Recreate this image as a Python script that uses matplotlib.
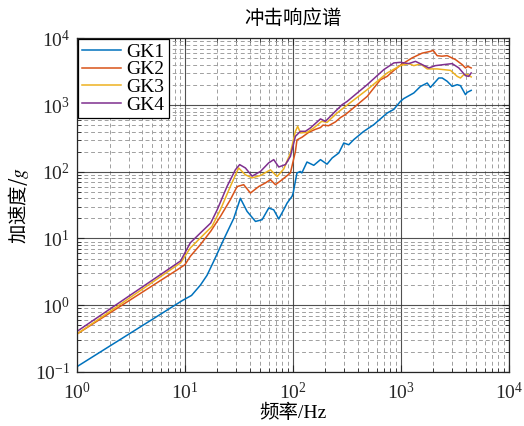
import matplotlib
matplotlib.use('Agg')
import matplotlib.pyplot as plt
from matplotlib.ticker import LogLocator, NullFormatter

plt.rcParams['font.family'] = ['Liberation Serif', 'Noto Sans CJK SC']
plt.rcParams['mathtext.fontset'] = 'stix'

# shock response spectra (Hz, g)
gk1_f = [1, 9.5, 11.5, 13.9, 16, 18.4, 22.8, 28.3, 32.6, 37.6, 45, 51.8, 59.7, 66.4, 73.9, 82.2, 88.4,
         98.3, 100.5, 109, 117, 121, 135, 156, 180, 207, 231, 266, 296, 329, 366, 450, 561, 747, 860,
         991, 1064, 1318, 1521, 1754, 1880, 2245, 2415, 2687, 2988, 3326, 3566, 3969, 4114, 4483]
gk1_a = [0.12, 1.18, 1.4, 2.0, 2.8, 4.5, 9.6, 20, 40, 25.5, 18, 19.1, 28.6, 26.9, 19.6, 27, 34,
         43, 48, 96, 101, 96, 140, 125, 152, 130, 161, 191, 270, 254, 303, 400, 508, 760, 860,
         1135, 1250, 1517, 1905, 2140, 1841, 2545, 2545, 2270, 1905, 2022, 1954, 1431, 1549, 1660]

gk2_f = [1, 8.5, 10, 11.2, 13.9, 17.3, 21.3, 26.3, 30.4, 35, 40.4, 48.2, 55.6, 61.9, 68.9, 79.4,
         94.8, 105.5, 109, 121.7, 140, 160, 180, 190, 214, 248, 276, 306, 341, 488, 647, 747, 860,
         1000, 1273, 1575, 1880, 1991, 2168, 2400, 2687, 3206, 3698, 3969, 4169, 4483]
gk2_a = [0.37, 3.4, 4.05, 5.4, 8.1, 12.8, 21.4, 38, 60, 64, 48, 60, 68, 76, 64, 76,
         96, 202, 300, 330, 390, 430, 460, 500, 490, 560, 650, 720, 830, 1350, 2400, 2692, 3300,
         4000, 5100, 6000, 6380, 6610, 5500, 5400, 5500, 4800, 4040, 3600, 3800, 3600]

gk3_f = [1, 9.1, 11.2, 13.9, 17.8, 21.3, 26.3, 31.4, 36.3, 41.9, 50, 61.9, 71.4, 82.2, 94.8, 105.5,
         110.7, 117.4, 135.5, 156, 185, 207, 257, 307, 488, 747, 991, 1184, 1318, 1520, 1754, 2168,
         2884, 3326, 3566, 3828, 4169, 4483]
gk3_a = [0.37, 4.3, 7.2, 10.2, 15.2, 27, 60, 114, 90, 81, 88, 107, 85, 110, 191, 404,
         480, 382, 390, 454, 570, 550, 762, 957, 1702, 3027, 3900, 4180, 3900, 4130, 3480, 3480,
         3310, 2690, 2545, 2860, 2860, 2640]

gk4_f = [1, 9.1, 11.2, 13.9, 17.3, 19.9, 24.5, 29.3, 32.1, 36.3, 41.9, 50, 59.7, 66.4, 73.9, 85.2,
         94.8, 105.5, 117.4, 130.5, 145.2, 180, 200, 239, 286, 318, 488, 695, 860, 991, 1184, 1366,
         1575, 1815, 2093, 2500, 2988, 3443, 3969, 4257, 4483]
gk4_a = [0.405, 4.6, 8.6, 12.1, 17, 27, 60, 107, 128, 114, 86, 101, 136, 152, 118, 128,
         170, 340, 404, 404, 454, 620, 570, 762, 1014, 1135, 2022, 3396, 4280, 4370, 4180, 4520,
         4040, 3600, 3900, 4040, 4180, 3600, 2760, 2690, 3030]

labels = ['GK1', 'GK2', 'GK3', 'GK4']
colors = ['#0072BD', '#D95319', '#EDB120', '#7E2F8E']

fig = plt.figure(figsize=(5.24, 4.26), dpi=100)
ax = fig.add_axes([0.147, 0.127, 0.824, 0.783])

for f, a, lab, c in zip([gk1_f, gk2_f, gk3_f, gk4_f], [gk1_a, gk2_a, gk3_a, gk4_a], labels, colors):
    ax.plot(f, a, color=c, lw=1.1, label=lab)

ax.set_xscale('log')
ax.set_yscale('log')
ax.set_xlim(1, 1e4)
ax.set_ylim(0.1, 1e4)
ax.xaxis.set_minor_locator(LogLocator(base=10, subs=range(2, 10), numticks=20))
ax.yaxis.set_minor_locator(LogLocator(base=10, subs=range(2, 10), numticks=20))
ax.xaxis.set_minor_formatter(NullFormatter())
ax.yaxis.set_minor_formatter(NullFormatter())

ax.grid(True, which='major', color='#333333', lw=0.8, ls='-', alpha=0.85)
ax.grid(True, which='minor', color='#a0a0a0', lw=0.7, ls=(0, (4, 3)))
ax.set_axisbelow(True)

ax.tick_params(which='both', direction='in', top=True, right=True, labelsize=14, colors='#262626')
ax.tick_params(which='major', length=5, width=0.8)
ax.tick_params(which='minor', length=3, width=0.6)
ax.tick_params(axis='x', which='major', pad=7)
ax.tick_params(axis='y', which='major', pad=5)
for s in ax.spines.values():
    s.set_color('#262626')
    s.set_linewidth(0.9)

ax.set_title('冲击响应谱', fontsize=14, family=['Noto Sans CJK SC'], pad=10)
ax.set_xlabel('频率/Hz', fontsize=14, labelpad=1)
ax.set_ylabel('加速度/$g$', fontsize=14, family=['Noto Sans CJK SC'], labelpad=3)

leg = ax.legend(loc='upper left', fontsize=14, frameon=True, fancybox=False, framealpha=1,
                edgecolor='black', borderaxespad=0.05, borderpad=0.2, labelspacing=0.0,
                handlelength=2.0, handletextpad=0.3)
leg.get_frame().set_linewidth(0.9)

fig.savefig('out.png', dpi=100)
